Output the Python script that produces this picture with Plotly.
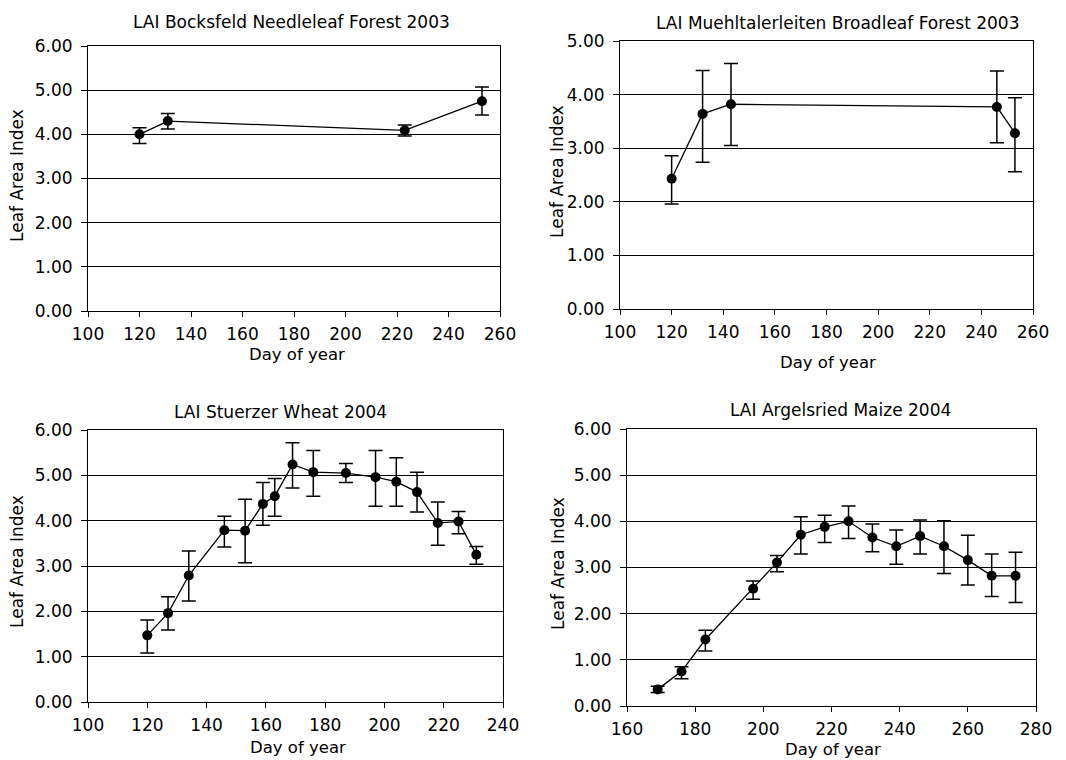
import plotly.graph_objects as go

# ---------------- data ----------------
titles = [
    "LAI Bocksfeld Needleleaf Forest 2003",
    "LAI Muehltalerleiten Broadleaf Forest 2003",
    "LAI Stuerzer Wheat 2004",
    "LAI Argelsried Maize 2004",
]

bock_day = [120, 131, 223, 253]
bock_lai = [4.00, 4.30, 4.09, 4.75]
bock_hi = [4.15, 4.47, 4.21, 5.07]
bock_lo = [3.79, 4.12, 3.96, 4.44]

mueh_day = [120, 132, 143, 246, 253]
mueh_lai = [2.43, 3.64, 3.82, 3.77, 3.28]
mueh_hi = [2.86, 4.45, 4.58, 4.44, 3.94]
mueh_lo = [1.96, 2.74, 3.05, 3.10, 2.56]

wheat_day = [120, 127, 134, 146, 153, 159, 163, 169, 176, 187, 197, 204, 211, 218, 225, 231]
wheat_lai = [1.47, 1.96, 2.79, 3.79, 3.78, 4.37, 4.54, 5.24, 5.07, 5.05, 4.96, 4.86, 4.63, 3.95, 3.98, 3.25]
wheat_hi = [1.81, 2.32, 3.33, 4.10, 4.47, 4.84, 4.93, 5.72, 5.55, 5.26, 5.55, 5.39, 5.07, 4.41, 4.20, 3.43]
wheat_lo = [1.08, 1.59, 2.23, 3.42, 3.07, 3.90, 4.10, 4.72, 4.54, 4.84, 4.32, 4.32, 4.19, 3.46, 3.71, 3.04]

maize_day = [169, 176, 183, 197, 204, 211, 218, 225, 232, 239, 246, 253, 260, 267, 274]
maize_lai = [0.36, 0.75, 1.44, 2.54, 3.11, 3.71, 3.88, 4.00, 3.65, 3.46, 3.68, 3.46, 3.16, 2.82, 2.82]
maize_hi = [0.43, 0.85, 1.64, 2.71, 3.26, 4.10, 4.13, 4.33, 3.94, 3.81, 4.03, 4.01, 3.70, 3.29, 3.33]
maize_lo = [0.29, 0.59, 1.19, 2.31, 2.91, 3.29, 3.54, 3.63, 3.34, 3.07, 3.29, 2.87, 2.62, 2.37, 2.24]

x_ranges = [[100, 260], [100, 260], [100, 240], [160, 280]]
y_ranges = [[0, 6], [0, 5], [0, 6], [0, 6]]
x_title = "Day of year"
y_title = "Leaf Area Index"

series = [
    (bock_day, bock_lai, bock_hi, bock_lo),
    (mueh_day, mueh_lai, mueh_hi, mueh_lo),
    (wheat_day, wheat_lai, wheat_hi, wheat_lo),
    (maize_day, maize_lai, maize_hi, maize_lo),
]

# ---------------- layout geometry (page pixels) ----------------
W, H = 1066, 760
FONT = "DejaVu Sans"
# plot boxes: left, right, top, bottom
boxes = [
    (88, 500, 46, 311),
    (620, 1033, 41, 309),
    (88, 503, 430, 702),
    (627, 1036, 429, 706),
]
title_pos = [(291, 22), (837, 23), (280, 412), (840, 410)]
xt_pos = [(297, 355), (828, 362), (298, 747), (833, 749)]
yt_pos = [(17, 176), (557, 172), (17, 562), (558, 564)]


def px(x):
    return x / W


def py(y):
    return 1 - y / H


fig = go.Figure()
layout = dict(
    width=W, height=H, autosize=False,
    margin=dict(l=0, r=0, t=0, b=0),
    paper_bgcolor="white", plot_bgcolor="white",
    showlegend=False,
    font=dict(family=FONT, size=17, color="black"),
)
annotations = []

for i, ((d, v, hi, lo), box) in enumerate(zip(series, boxes)):
    n = i + 1
    xa = "x" if n == 1 else f"x{n}"
    ya = "y" if n == 1 else f"y{n}"
    plus = [h - m for h, m in zip(hi, v)]
    minus = [m - l for m, l in zip(v, lo)]
    fig.add_trace(go.Scatter(
        x=d, y=v, xaxis=xa, yaxis=ya, mode="lines+markers",
        line=dict(color="black", width=1.3),
        marker=dict(color="black", size=10),
        error_y=dict(type="data", symmetric=False, array=plus, arrayminus=minus,
                     color="black", thickness=1.5, width=7),
        cliponaxis=False,
    ))
    l, r, t, b = box
    xd = [px(l), px(r)]
    yd = [py(b), py(t)]
    layout["xaxis" if n == 1 else f"xaxis{n}"] = dict(
        domain=xd, anchor=ya, range=x_ranges[i], dtick=20, tick0=0,
        showline=True, linecolor="black", linewidth=1, mirror=True,
        ticks="outside", ticklen=5, tickcolor="black", tickwidth=1,
        showgrid=False, zeroline=False, ticklabelstandoff=3, automargin=False,
        tickfont=dict(family=FONT, size=17, color="black"), fixedrange=True,
    )
    layout["yaxis" if n == 1 else f"yaxis{n}"] = dict(
        domain=yd, anchor=xa, range=y_ranges[i], dtick=1, tick0=0,
        tickformat=".2f",
        showline=True, linecolor="black", linewidth=1, mirror=True,
        ticks="outside", ticklen=6, tickcolor="black", tickwidth=1,
        showgrid=True, gridcolor="black", gridwidth=1, zeroline=False,
        ticklabelstandoff=5, automargin=False,
        tickfont=dict(family=FONT, size=17, color="black"), fixedrange=True,
    )
    tx, ty = title_pos[i]
    annotations.append(dict(text=titles[i], x=px(tx), y=py(ty), xref="paper", yref="paper",
                            showarrow=False, xanchor="center", yanchor="middle",
                            font=dict(family=FONT, size=17, color="black")))
    ax, ay = xt_pos[i]
    annotations.append(dict(text=x_title, x=px(ax), y=py(ay), xref="paper", yref="paper",
                            showarrow=False, xanchor="center", yanchor="middle",
                            font=dict(family=FONT, size=16.5, color="black")))
    yx, yy = yt_pos[i]
    annotations.append(dict(text=y_title, x=px(yx), y=py(yy), xref="paper", yref="paper",
                            showarrow=False, xanchor="center", yanchor="middle", textangle=-90,
                            font=dict(family=FONT, size=17, color="black")))

layout["annotations"] = annotations
fig.update_layout(**layout)
fig.write_html(
    "out.html",
    config={"displayModeBar": False},
    post_script="document.body.style.margin='0';document.body.style.overflow='hidden';",
)
